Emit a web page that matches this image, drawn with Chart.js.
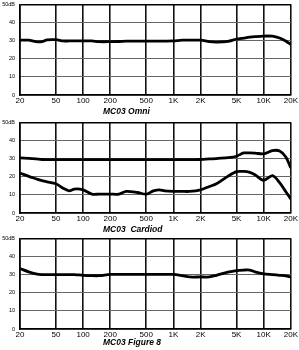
<!DOCTYPE html>
<html>
<head>
<meta charset="utf-8">
<script src="https://cdn.jsdelivr.net/npm/chart.js@4"></script>
<style>
  body { margin: 0; background: #fff; width: 299px; height: 350px; position: relative; overflow: hidden; }
  .box { position: absolute; left: 0; width: 299px; height: 114px; }
  .ttl { position: absolute; left: 103px; font: italic bold 8.5px "Liberation Sans", Arial, sans-serif; color: #000; white-space: pre; }
</style>
</head>
<body>
<div class="box" style="top:-4px"><canvas id="omni" width="299" height="114"></canvas></div>
<div class="ttl" style="top:106px">MC03 Omni</div>
<div class="box" style="top:114px"><canvas id="cardiod" width="299" height="114"></canvas></div>
<div class="ttl" style="top:224px">MC03  Cardiod</div>
<div class="box" style="top:230px"><canvas id="fig8" width="299" height="114"></canvas></div>
<div class="ttl" style="top:337px">MC03 Figure 8</div>
<script>
// frequencies (Hz) the curves were read at
var freqs = [20, 25, 30, 35, 40, 50, 60, 70, 80, 100, 125, 150, 200, 250, 300, 400, 500, 600, 700, 800,
             1000, 1250, 1500, 2000, 2500, 3000, 4000, 5000, 6000, 7000, 8000, 10000, 12500, 15000, 17500, 20000];

var xTicks = [20, 50, 100, 200, 500, 1000, 2000, 5000, 10000, 20000];
var xLabels = ['20', '50', '100', '200', '500', '1K', '2K', '5K', '10K', '20K'];
var yTicks = [0, 10, 20, 30, 40, 50];
var yLabels = ['0', '10', '20', '30', '40', '50dB'];

// dB values
var omni = [30.3, 30.2, 29.4, 29.4, 30.4, 30.5, 29.8, 29.8, 29.8, 29.8, 29.8, 29.4, 29.4, 29.5, 29.7, 29.7, 29.7, 29.7, 29.7, 29.7,
            29.8, 30.2, 30.2, 30.2, 29.4, 29.2, 29.5, 30.8, 31.4, 31.9, 32.2, 32.5, 32.4, 31.4, 29.8, 27.8];
var cardFront = [30.4, 30.1, 29.8, 29.5, 29.4, 29.4, 29.4, 29.4, 29.4, 29.4, 29.4, 29.4, 29.4, 29.4, 29.4, 29.4, 29.4, 29.4, 29.4, 29.4,
                 29.4, 29.4, 29.4, 29.5, 29.8, 30.0, 30.5, 31.3, 33.1, 33.1, 33.0, 32.6, 34.4, 34.2, 31.0, 24.8];
var cardRear = [22.0, 20.2, 18.9, 17.8, 17.2, 16.1, 13.7, 12.2, 13.2, 12.8, 10.4, 10.4, 10.4, 10.4, 11.9, 11.3, 10.4, 12.2, 12.8, 12.2,
                11.9, 11.9, 11.9, 12.8, 14.6, 16.1, 20.2, 22.8, 22.9, 22.4, 21.1, 18.0, 20.6, 16.8, 11.9, 7.6];
var fig8 = [33.3, 31.5, 30.4, 30.0, 30.0, 30.0, 30.0, 30.0, 30.0, 29.6, 29.4, 29.4, 30.1, 30.1, 30.1, 30.1, 30.1, 30.1, 30.1, 30.1,
            30.1, 29.4, 28.7, 28.7, 28.7, 29.6, 31.3, 32.2, 32.5, 32.5, 31.5, 30.4, 30.0, 29.6, 29.3, 28.7];

function pts(vals) {
  return freqs.map(function (f, i) { return { x: f, y: vals[i] }; });
}

function makeChart(id, seriesList) {
  var ctx = document.getElementById(id).getContext('2d');
  return new Chart(ctx, {
    type: 'line',
    data: {
      datasets: seriesList.map(function (s) {
        return { data: pts(s), borderColor: '#000', borderWidth: 2.8, pointRadius: 0, tension: 0.3, fill: false };
      })
    },
    options: {
      responsive: false,
      animation: false,
      events: [],
      layout: { padding: { top: 1, right: 6, left: 0, bottom: 0 } },
      plugins: { legend: { display: false }, tooltip: { enabled: false } },
      scales: {
        x: {
          type: 'logarithmic',
          min: 20,
          max: 20000,
          afterBuildTicks: function (scale) {
            scale.ticks = xTicks.map(function (v) { return { value: v }; });
          },
          afterFit: function (scale) { scale.height = 15; },
          ticks: {
            autoSkip: false,
            maxRotation: 0,
            padding: 1,
            color: '#000',
            font: { family: 'Liberation Sans, Arial', size: 8 },
            callback: function (v, i) { return xLabels[i]; }
          },
          grid: { color: '#111', lineWidth: 1.6, drawTicks: false },
          border: { color: '#000', width: 1.6 }
        },
        y: {
          min: 0,
          max: 50,
          afterBuildTicks: function (scale) {
            scale.ticks = yTicks.map(function (v) { return { value: v }; });
          },
          afterFit: function (scale) { scale.width = 20; },
          ticks: {
            padding: 5,
            color: '#000',
            font: { family: 'Liberation Sans, Arial', size: 5.5 },
            callback: function (v, i) { return yLabels[i]; }
          },
          grid: {
            drawTicks: false,
            color: function (c) { return c.tick && c.tick.value === 50 ? '#000' : '#666'; },
            lineWidth: function (c) { return c.tick && c.tick.value === 50 ? 1.6 : 1; }
          },
          border: { color: '#000', width: 1.6 }
        }
      }
    }
  });
}

makeChart('omni', [omni]);
makeChart('cardiod', [cardFront, cardRear]);
makeChart('fig8', [fig8]);
</script>
</body>
</html>
